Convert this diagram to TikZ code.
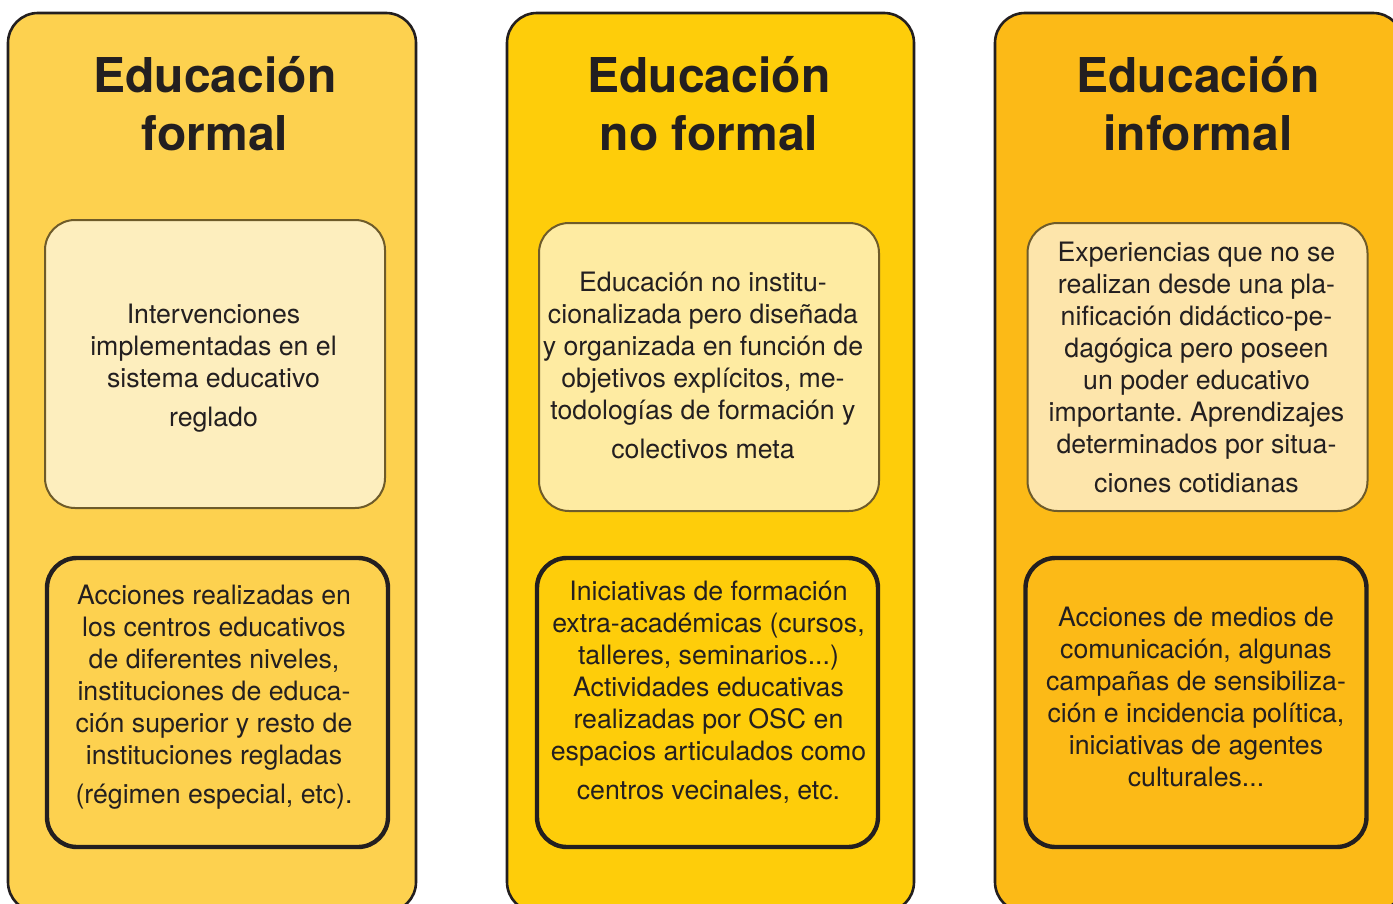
\documentclass[tikz,border=0pt]{standalone}
\usepackage{fontspec}
\setmainfont{TeX Gyre Heros}
\frenchspacing
\definecolor{ink}{HTML}{231F20}
\definecolor{boxline}{HTML}{6E5B2A}
\definecolor{colA}{HTML}{FDD14F}
\definecolor{colB}{HTML}{FECD0A}
\definecolor{colC}{HTML}{FCBA17}
\definecolor{paleA}{HTML}{FDEEBE}
\definecolor{paleB}{HTML}{FEEBA2}
\definecolor{paleC}{HTML}{FDE5AB}

\begin{document}
\begin{tikzpicture}[x=0.5pt,y=-0.5pt,
    column/.style={draw=ink,line width=1.3pt,rounded corners=15pt},
    title/.style={font=\fontsize{24}{29}\selectfont\bfseries,text=ink,align=center},
    topbox/.style={draw=boxline,line width=1pt,rounded corners=15pt,minimum width=170pt,minimum height=144pt,inner sep=0pt},
    lowbox/.style={draw=ink,line width=2.2pt,rounded corners=15pt,minimum width=170.5pt,minimum height=144.5pt,inner sep=0pt},
    body/.style={font=\fontsize{13.35}{16}\selectfont,text=ink,align=center}]

    \useasboundingbox (0,0) rectangle (1393,904);

    % columns
    \draw[column,fill=colA] (8,13) rectangle (416,912);
    \draw[column,fill=colB] (507,13) rectangle (914,912);
    \draw[column,fill=colC] (995,13) rectangle (1403,912);

    % titles
    \node[title] (formal) at (215,104) {Educación\\formal};
    \node[title] (noformal) at (709,104) {Educación\\no formal};
    \node[title] (informal) at (1198,104) {Educación\\informal};

    % upper boxes
    \node[topbox,fill=paleA] (formaltop) at (215,364) {};
    \node[topbox,fill=paleB] (noformaltop) at (709,367) {};
    \node[topbox,fill=paleC] (informaltop) at (1197.5,367) {};

    \node[body] (formaltoptext) at ([xshift=-0.75pt,yshift=-2pt]formaltop.center) {Intervenciones\\implementadas en el\\sistema educativo\\[3.5pt]reglado};
    \node[body] (noformaltoptext) at ([xshift=-3pt,yshift=1pt]noformaltop.center) {Educación no institu-\\cionalizada pero diseñada\\y organizada en función de\\objetivos explícitos, me-\\todologías de formación y\\[3.5pt]colectivos meta};
    \node[body] (informaltoptext) at ([xshift=-0.5pt]informaltop.center) {Experiencias que no se\\realizan desde una pla-\\nificación didáctico-pe-\\dagógica pero poseen\\un poder educativo\\importante. Aprendizajes\\determinados por situa-\\[3.5pt]ciones cotidianas};

    % lower boxes
    \node[lowbox] (formallow) at (217.5,702.5) {};
    \node[lowbox] (noformallow) at (707.5,702.5) {};
    \node[lowbox] (informallow) at (1196,702.5) {};

    \node[body] (formallowtext) at ([xshift=-1.75pt,yshift=2.5pt]formallow.center) {Acciones realizadas en\\los centros educativos\\de diferentes niveles,\\instituciones de educa-\\ción superior y resto de\\instituciones regladas\\[3.5pt](régimen especial, etc).};
    \node[body] (noformallowtext) at ([xshift=0.5pt,yshift=5pt]noformallow.center) {Iniciativas de formación\\extra-académicas (cursos,\\talleres, seminarios...)\\Actividades educativas\\realizadas por OSC en\\espacios articulados como\\[3.5pt]centros vecinales, etc.};
    \node[body] (informallowtext) at ([yshift=3pt]informallow.center) {Acciones de medios de\\comunicación, algunas\\campañas de sensibiliza-\\ción e incidencia política,\\iniciativas de agentes\\culturales...};
\end{tikzpicture}
\end{document}
